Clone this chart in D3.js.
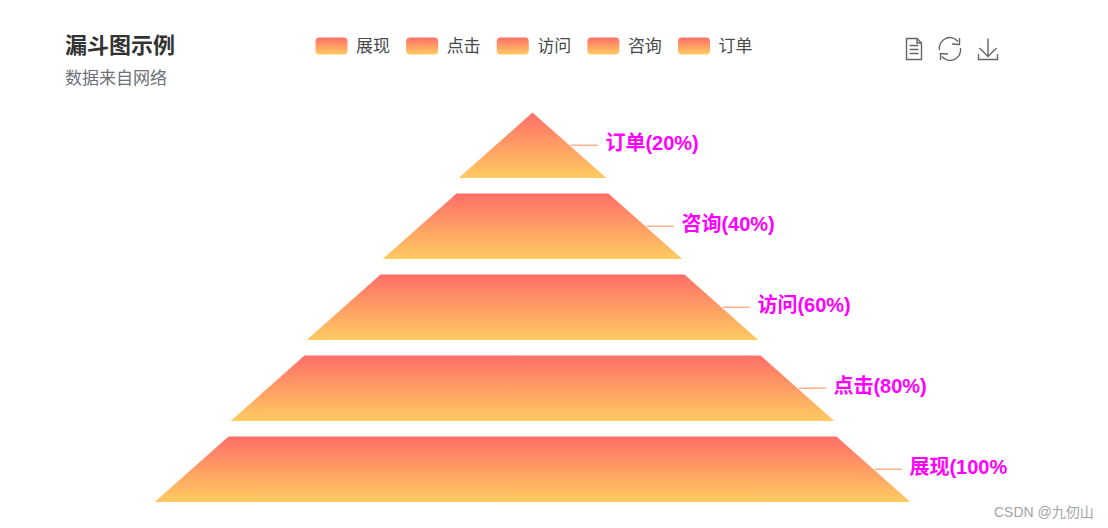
<!DOCTYPE html>
<html><head><meta charset="utf-8">
<script src="https://cdn.jsdelivr.net/npm/d3@7"></script>
<style>html,body{margin:0;padding:0;background:#fff;overflow:hidden}svg{display:block}
text{font-family:"Noto Sans CJK SC","Noto Sans",sans-serif}</style></head>
<body><div id="c"></div>
<script>
const categories = ["展现","点击","访问","咨询","订单"];
const values = [100,80,60,40,20];
const titleText = "漏斗图示例";
const subtitleText = "数据来自网络";
const watermark = "CSDN @九仞山";
const gradStops = ["#ff6e68","#ffcb61"];

const W=1108,H=528;
const svg=d3.select("#c").append("svg").attr("width",W).attr("height",H);
const defs=svg.append("defs");
const g=defs.append("linearGradient").attr("id","fg").attr("x1",0).attr("y1",0).attr("x2",0).attr("y2",1);
g.selectAll("stop").data(gradStops).join("stop").attr("offset",(d,i)=>i).attr("stop-color",d=>d);
defs.append("clipPath").attr("id","cv").append("rect").attr("width",1007).attr("height",H);

// funnel
const order=categories.map((c,i)=>({c,v:values[i]})).sort((a,b)=>a.v-b.v);
const cx=532.5, inset=2.2;
const w=d3.scaleLinear().domain([0,100]).range([0,760]);
const y=d3.scaleBand().domain(order.map(d=>d.c)).range([112.5,502]).paddingInner(0.19);
const root=svg.append("g").attr("clip-path","url(#cv)");
const line=d3.line();
const topHalf=(d,i)=>w(i?order[i-1].v:0)/2, botHalf=d=>w(d.v)/2-inset;
const rows=root.selectAll("g.row").data(order).join("g").attr("class","row");
rows.append("path").attr("fill","url(#fg)").attr("d",(d,i)=>{
  const tw=topHalf(d,i),bw=botHalf(d),t=y(d.c),b=t+y.bandwidth();
  return line([[cx-tw,t],[cx+tw,t],[cx+bw,b],[cx-bw,b]])+"Z";
});
const edge=(d,i)=>cx+(topHalf(d,i)+botHalf(d))/2;
const my=d=>y(d.c)+y.bandwidth()/2;
rows.append("line").attr("x1",(d,i)=>edge(d,i)+1.5).attr("x2",(d,i)=>edge(d,i)+28.5)
  .attr("y1",d=>my(d)).attr("y2",d=>my(d)).attr("stroke","#ffb18c").attr("stroke-width",1.5);
rows.append("text").attr("x",(d,i)=>edge(d,i)+36).attr("y",d=>my(d)-2).attr("dy","0.35em")
  .attr("fill","#ff00ff").attr("font-size",20).attr("font-weight",700)
  .style("font-family",'"Liberation Sans","Noto Sans CJK SC",sans-serif').text(d=>`${d.c}(${d.v}%)`);

// title
svg.append("text").attr("x",65).attr("y",53).attr("font-size",22).attr("font-weight",700).attr("fill","#333").text(titleText);
svg.append("text").attr("x",65).attr("y",84).attr("font-size",17).attr("fill","#6e7079").text(subtitleText);

// legend
const lx=d3.scalePoint().domain(categories).range([315.5,678]);
const lg=svg.selectAll("g.leg").data(categories).join("g").attr("class","leg").attr("transform",d=>`translate(${lx(d)},37.5)`);
lg.append("rect").attr("width",32).attr("height",17).attr("rx",4).attr("fill","url(#fg)");
lg.append("text").attr("x",40.5).attr("y",14.5).attr("font-size",17).attr("fill","#4a4a4a").text(d=>d);

// toolbox
const ic=svg.append("g").attr("fill","none").attr("stroke","#666").attr("stroke-width",1.4);
ic.append("path").attr("d","M906.5 38.5H917L921.5 43V59.5H906.5ZM917 38.5V43H921.5M909.5 45.5H918.5M909.5 49.5H918.5M909.5 53.5H918.5");
ic.append("path").attr("d","M939.5 50A10.5 10.5 0 0 1 958 41.5M960.5 48A10.5 10.5 0 0 1 942 56.5");
ic.append("path").attr("d","M952 44L959.5 44.5L959.5 38M948 54L940.5 53.5L940.5 60");
ic.append("path").attr("d","M988 38.5V56M979.5 48L988 56.5L996.5 48M978.5 54V59.5H997.5V54");

// watermark
svg.append("text").attr("x",994).attr("y",517).attr("font-size",14).attr("fill","#a3a3a3")
  .style("font-family",'"Liberation Sans","Noto Sans CJK SC",sans-serif').text(watermark);
</script></body></html>
